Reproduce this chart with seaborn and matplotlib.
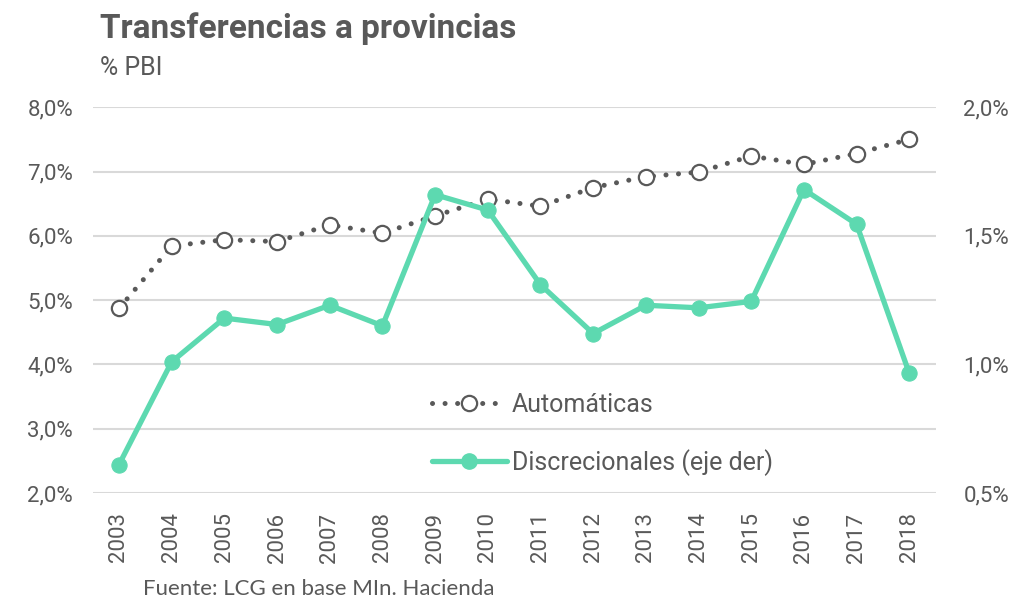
import matplotlib
matplotlib.use("Agg")
import matplotlib.pyplot as plt
from matplotlib.lines import Line2D
from matplotlib.ticker import FuncFormatter
import seaborn as sns
import pandas as pd

years = list(range(2003, 2019))
automaticas = [4.87, 5.84, 5.94, 5.91, 6.17, 6.04, 6.31, 6.57,
               6.46, 6.75, 6.92, 6.99, 7.24, 7.11, 7.28, 7.50]
discrecionales = [0.61, 1.01, 1.18, 1.155, 1.23, 1.15, 1.66, 1.60,
                  1.31, 1.12, 1.23, 1.22, 1.245, 1.68, 1.545, 0.965]

df = pd.DataFrame({'anio': years, 'auto': automaticas, 'disc': discrecionales})

gray = '#595959'
teal = '#5DD9B0'
grid = '#D9D9D9'

sns.set_style("white")
plt.rcParams['font.family'] = ['Roboto', 'DejaVu Sans']

fig = plt.figure(figsize=(10.17, 5.99), dpi=100)
ax = fig.add_axes([0.0911, 0.177, 0.8289, 0.644])
ax2 = ax.twinx()

sns.lineplot(data=df, x='anio', y='auto', ax=ax, color=gray, linewidth=3.6,
             linestyle=(0, (0.01, 2.5)), dash_capstyle='round',
             marker='o', markersize=11, markerfacecolor='white',
             markeredgecolor=gray, markeredgewidth=1.6, zorder=3)
sns.lineplot(data=df, x='anio', y='disc', ax=ax2, color=teal, linewidth=3.8,
             marker='o', markersize=11, markeredgecolor=teal, zorder=3)

ax.set_xlim(2002.5, 2018.5)
ax.set_ylim(2, 8)
ax2.set_ylim(0.5, 2.0)
ax.set_yticks([2, 3, 4, 5, 6, 7, 8])
ax2.set_yticks([0.5, 1.0, 1.5, 2.0])
ax.set_xticks(years)
ax.set_xticklabels([str(y) for y in years], rotation=90)

fmt = FuncFormatter(lambda v, p: f"{v:.1f}%".replace('.', ','))
ax.yaxis.set_major_formatter(fmt)
ax2.yaxis.set_major_formatter(fmt)

ax.yaxis.grid(True, color=grid, linewidth=1.5)
ax.xaxis.grid(False)
for a in (ax, ax2):
    for s in a.spines.values():
        s.set_visible(False)
    a.set_xlabel('')
    a.set_ylabel('')
ax.tick_params(axis='y', length=0, pad=14, labelsize=16, labelcolor=gray)
ax.tick_params(axis='x', length=0, pad=14, labelsize=16, labelcolor=gray)
ax2.tick_params(axis='y', length=0, pad=20, labelsize=16, labelcolor=gray)

handles = [
    Line2D([], [], color=gray, linewidth=3.6, linestyle=(0, (0.01, 2.5)),
           dash_capstyle='round', marker='o', markersize=11,
           markerfacecolor='white', markeredgecolor=gray, markeredgewidth=1.6),
    Line2D([], [], color=teal, linewidth=3.8, marker='o', markersize=11,
           markeredgecolor=teal),
]
leg = ax2.legend(handles, ['Automáticas', 'Discrecionales (eje der)'],
                 loc='upper left', bbox_to_anchor=(0.3755, 0.317), frameon=False,
                 fontsize=18, handlelength=3.0, handletextpad=0.2,
                 labelspacing=1.28, labelcolor=gray)

fig.text(100 / 1017, 1 - 38 / 599, 'Transferencias a provincias',
         fontsize=24, fontweight='bold', color=gray, va='baseline')
fig.text(100 / 1017, 1 - 75 / 599, '% PBI', fontsize=18, color=gray,
         va='baseline')
fig.text(143 / 1017, 1 - 595 / 599, 'Fuente: LCG en base MIn. Hacienda',
         fontsize=16, color=gray, va='baseline', family=['Lato', 'DejaVu Sans'])

fig.savefig('out.png', dpi=100)
